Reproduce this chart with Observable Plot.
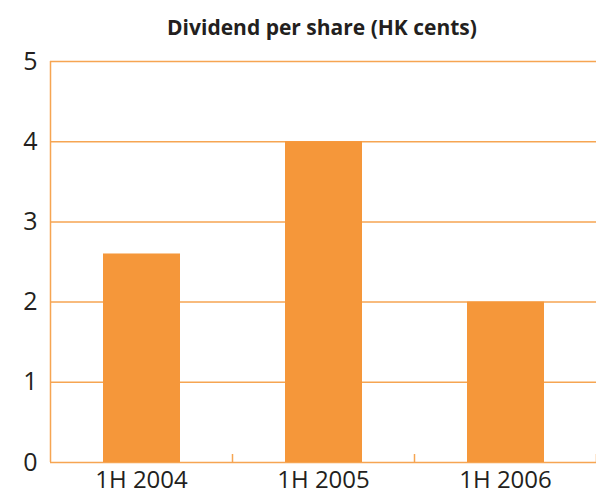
<!DOCTYPE html>
<html>
<head>
<meta charset="utf-8">
<script src="https://cdn.jsdelivr.net/npm/d3@7"></script>
<script src="https://cdn.jsdelivr.net/npm/@observablehq/plot@0.6"></script>
<style>
  html, body { margin: 0; padding: 0; background: #fff; }
  #wrap { width: 596px; }
  #title { height: 48px; box-sizing: border-box; padding-left: 48px; text-align: center;
           font-family: "Open Sans", sans-serif; font-weight: 700; font-size: 21px;
           color: #231f20; line-height: 21px; padding-top: 17px; }
</style>
</head>
<body>
<div id="wrap">
  <div id="title">Dividend per share (HK cents)</div>
  <div id="chart"></div>
</div>
<script>
const categories = ["1H 2004", "1H 2005", "1H 2006"];
const values = [2.6, 4.0, 2.0];
const yTicks = [0, 1, 2, 3, 4, 5];

const data = categories.map((c, i) => ({cat: c, i, value: values[i]}));
const bounds = d3.range(categories.length + 1);

const orange = "#f5973a";
const line = "#f6a552";

const plot = Plot.plot({
  width: 596,
  height: 449,
  marginLeft: 50,
  marginRight: 0,
  marginTop: 13,
  marginBottom: 35,
  style: {fontFamily: "Open Sans, sans-serif", fontSize: "24px", color: "#231f20", background: "#fff", overflow: "visible"},
  x: {domain: [0, categories.length], axis: null},
  y: {domain: [0, 5], axis: null},
  marks: [
    Plot.ruleY(yTicks, {stroke: line, strokeWidth: 1.5}),
    Plot.rectY(data, {x1: "i", x2: d => d.i + 1, y1: 0, y2: "value", fill: orange, insetLeft: 53, insetRight: 52}),
    Plot.ruleX([0], {y1: 0, y2: 5, stroke: line, strokeWidth: 1.5}),
    Plot.ruleX(bounds.slice(1), {y1: 0, y2: 0.1, stroke: line, strokeWidth: 1.5}),
    Plot.axisY(yTicks, {tickSize: 0, tickPadding: 13, fontSize: 25, label: null, tickFormat: d3.format("d")}),
    Plot.axisX(data.map(d => d.i + 0.5), {tickSize: 0, tickPadding: 8, fontSize: 24, label: null, tickFormat: (d, k) => categories[k]})
  ]
});
document.getElementById("chart").appendChild(plot);
</script>
</body>
</html>
